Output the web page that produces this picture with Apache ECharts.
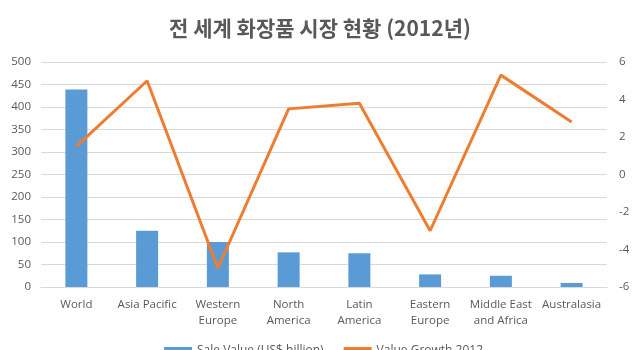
<!DOCTYPE html>
<html>
<head>
<meta charset="utf-8">
<script src="https://cdn.jsdelivr.net/npm/echarts@6/dist/echarts.min.js"></script>
<style>html,body{margin:0;padding:0;background:#fff;}#c{width:640px;height:350px;}</style>
</head>
<body>
<div id="c"></div>
<script>
var categories = ['World', 'Asia Pacific', 'Western\nEurope', 'North\nAmerica', 'Latin\nAmerica', 'Eastern\nEurope', 'Middle East\nand Africa', 'Australasia'];
var saleValue = [439, 125, 100, 77, 75, 28, 25, 9];
var valueGrowth = [1.5, 5.0, -5.0, 3.5, 3.8, -3.0, 5.3, 2.8];
var seriesNames = ['Sale Value (US$ billion)', 'Value Growth 2012'];
var titleText = '전 세계 화장품 시장 현황 (2012년)';

var chart = echarts.init(document.getElementById('c'), null, {renderer: 'canvas'});
var labelFont = '"Open Sans", "Noto Sans", sans-serif';
chart.setOption({
  animation: false,
  backgroundColor: '#ffffff',
  title: {
    text: titleText,
    left: 'center',
    top: 13,
    textStyle: {fontFamily: '"Noto Sans CJK KR", sans-serif', fontSize: 21, fontWeight: 'bold', color: '#595959'}
  },
  legend: {
    data: [
      {name: seriesNames[0], icon: 'rect', itemStyle: {color: '#5B9BD5'}},
      {name: seriesNames[1], icon: 'rect', itemStyle: {color: '#ED7D31'}}
    ],
    bottom: -12,
    left: 159,
    itemWidth: 28,
    itemHeight: 8,
    itemGap: 20,
    textStyle: {fontFamily: labelFont, fontSize: 12, color: '#595959'}
  },
  grid: {left: 41, right: 33, top: 62, bottom: 63, containLabel: false},
  xAxis: {
    type: 'category',
    data: categories,
    axisLine: {show: true, lineStyle: {color: '#d9d9d9'}},
    axisTick: {show: false},
    axisLabel: {fontFamily: labelFont, fontSize: 11.5, color: '#595959', margin: 10, lineHeight: 16, interval: 0}
  },
  yAxis: [
    {
      type: 'value', min: 0, max: 500, interval: 50,
      axisLine: {show: false}, axisTick: {show: false},
      axisLabel: {fontFamily: labelFont, fontSize: 11.5, color: '#595959', margin: 10},
      splitLine: {lineStyle: {color: '#d9d9d9'}}
    },
    {
      type: 'value', min: -6, max: 6, interval: 2,
      axisLine: {show: false}, axisTick: {show: false},
      axisLabel: {fontFamily: labelFont, fontSize: 11.5, color: '#595959', margin: 12},
      splitLine: {show: false}
    }
  ],
  series: [
    {
      name: seriesNames[0], type: 'bar', data: saleValue, yAxisIndex: 0,
      barWidth: 22, itemStyle: {color: '#5B9BD5'}
    },
    {
      name: seriesNames[1], type: 'line', data: valueGrowth, yAxisIndex: 1,
      symbol: 'none', lineStyle: {color: '#ED7D31', width: 3}, itemStyle: {color: '#ED7D31'}
    }
  ]
});
</script>
</body>
</html>
